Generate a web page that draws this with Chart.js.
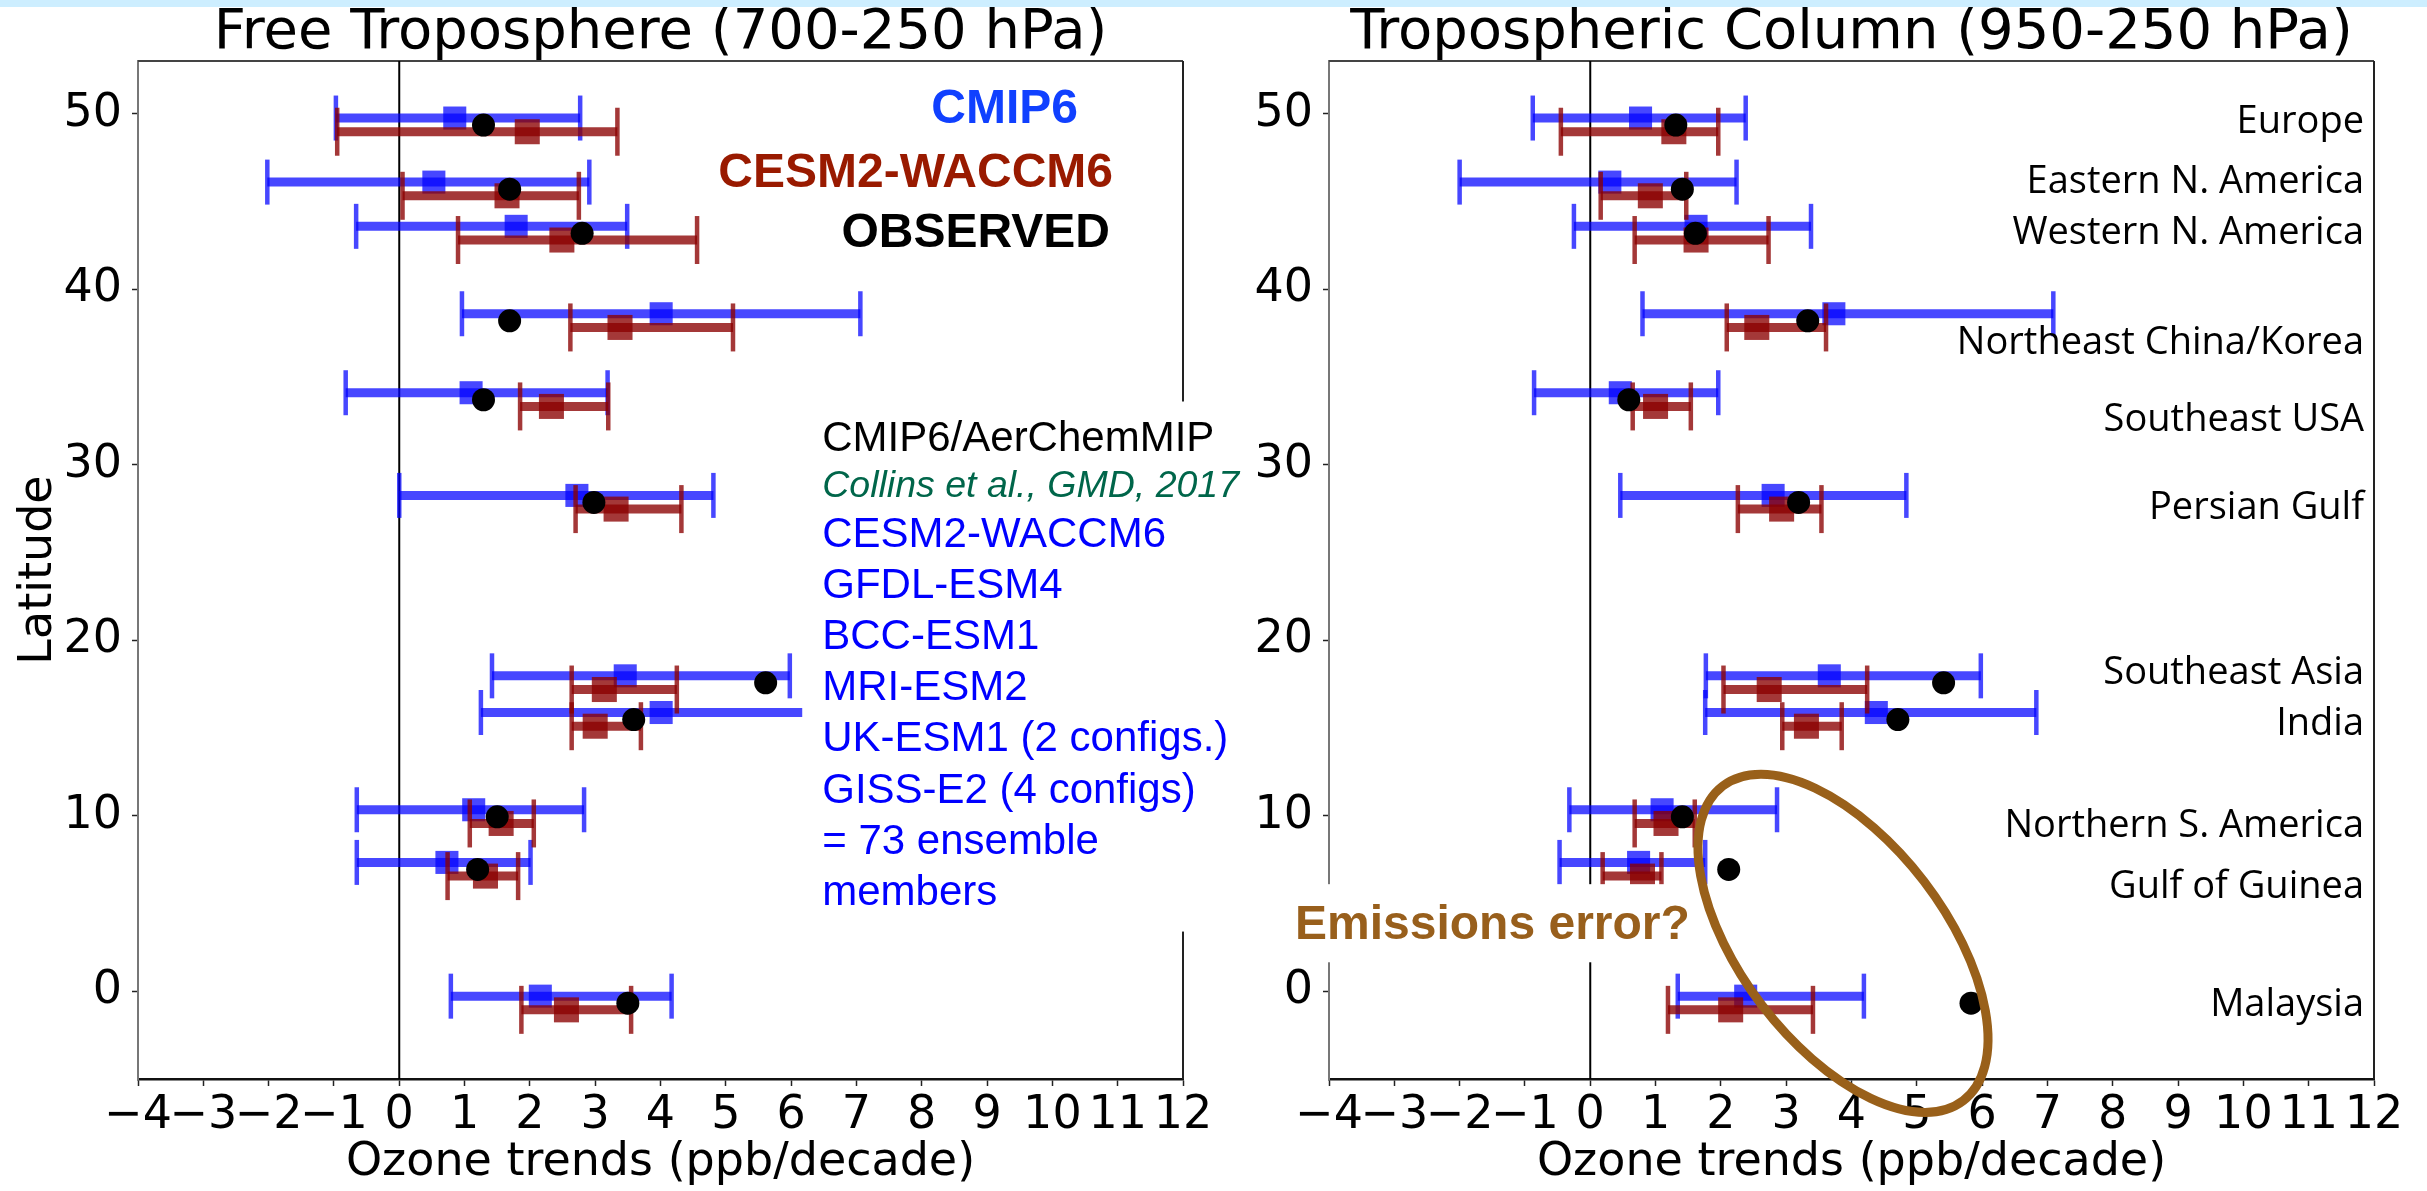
<!DOCTYPE html>
<html>
<head>
<meta charset="utf-8">
<script src="https://cdn.jsdelivr.net/npm/chart.js@4.4.1/dist/chart.umd.min.js"></script>
<style>
  html, body { margin: 0; padding: 0; background: #fff; }
  body { width: 2427px; height: 1191px; position: relative; overflow: hidden; }
  #franja { position: absolute; left: 0; top: 0; width: 2427px; height: 7px; background: #cdeeff; }
  #chartFree { position: absolute; left: 0; top: 0; }
  #chartColumn { position: absolute; left: 1190px; top: 0; }
</style>
</head>
<body>
<canvas id="chartFree" width="1260" height="1191"></canvas>
<canvas id="chartColumn" width="1237" height="1191"></canvas>
<div id="franja"></div>
<script>
// regions and observed latitudes
const regions = ['Europe', 'Eastern N. America', 'Western N. America', 'Northeast China/Korea',
  'Southeast USA', 'Persian Gulf', 'Southeast Asia', 'India', 'Northern S. America',
  'Gulf of Guinea', 'Malaysia']
const latitudes = [49.35, 45.7, 43.18, 38.2, 33.7, 27.85, 17.57, 15.48, 9.94, 6.94, -0.68]

const xTicks = [-4, -3, -2, -1, 0, 1, 2, 3, 4, 5, 6, 7, 8, 9, 10, 11, 12]
const yTicks = [0, 10, 20, 30, 40, 50]

// Free Troposphere (700-250 hPa)
const freeCmipMean = [0.85, 0.53, 1.79, 4.01, 1.10, 2.72, 3.46, 4.01, 1.14, 0.73, 2.16]
const freeCmipLow  = [-0.97, -2.02, -0.66, 0.96, -0.82, 0.00, 1.42, 1.25, -0.65, -0.65, 0.79]
const freeCmipHigh = [2.77, 2.91, 3.49, 7.06, 3.19, 4.81, 5.98, 6.80, 2.83, 2.01, 4.17]
const freeCesmMean = [1.96, 1.65, 2.49, 3.38, 2.33, 3.32, 3.14, 3.00, 1.56, 1.32, 2.56]
const freeCesmLow  = [-0.95, 0.05, 0.90, 2.62, 1.85, 2.70, 2.64, 2.64, 1.08, 0.74, 1.87]
const freeCesmHigh = [3.34, 2.75, 4.56, 5.11, 3.20, 4.32, 4.25, 3.70, 2.06, 1.82, 3.55]
const freeObserved = [1.29, 1.69, 2.80, 1.69, 1.29, 2.98, 5.61, 3.59, 1.50, 1.20, 3.50]

// Tropospheric Column (950-250 hPa)
const colCmipMean = [0.77, 0.30, 1.62, 3.73, 0.46, 2.80, 3.66, 4.38, 1.10, 0.74, 2.38]
const colCmipLow  = [-0.88, -2.00, -0.25, 0.80, -0.86, 0.46, 1.77, 1.76, -0.32, -0.47, 1.34]
const colCmipHigh = [2.38, 2.24, 3.38, 7.09, 1.96, 4.84, 5.98, 6.83, 2.86, 1.76, 4.19]
const colCesmMean = [1.28, 0.92, 1.62, 2.55, 1.00, 2.93, 2.74, 3.31, 1.16, 0.80, 2.15]
const colCesmLow  = [-0.45, 0.16, 0.68, 2.09, 0.65, 2.26, 2.04, 2.94, 0.68, 0.19, 1.19]
const colCesmHigh = [1.96, 1.47, 2.73, 3.61, 1.54, 3.54, 4.24, 3.85, 1.60, 1.09, 3.41]
const colObserved = [1.31, 1.41, 1.61, 3.33, 0.59, 3.19, 5.41, 4.71, 1.41, 2.12, 5.83]

// small vertical dodge of the two model series (degrees latitude)
const cmipShift = 0.4
const cesmShift = -0.38

const azul = 'rgba(0, 0, 255, 0.72)'
const rojo = 'rgba(139, 0, 0, 0.78)'

Chart.defaults.font.family = '"DejaVu Sans", sans-serif'
Chart.defaults.color = '#000'

const barras = (low, high, shift) => {
    const puntos = []
    low.forEach((v, i) => {
        puntos.push({ x: v, y: latitudes[i] + shift })
        puntos.push({ x: high[i], y: latitudes[i] + shift })
        puntos.push({ x: high[i], y: null })
    })
    return puntos
}
const extremos = (low, high, shift) =>
    low.flatMap((v, i) => [{ x: v, y: latitudes[i] + shift }, { x: high[i], y: latitudes[i] + shift }])
const centros = (vals, shift) => vals.map((v, i) => ({ x: v, y: latitudes[i] + shift }))

const serie = (mean, low, high, shift, color, squareR, capR, order) => [
    { data: barras(low, high, shift), showLine: true, spanGaps: false, borderColor: color,
      borderWidth: 9, pointRadius: 0, order: order + 1 },
    { data: extremos(low, high, shift), showLine: false, pointStyle: 'line', pointRotation: 90,
      pointRadius: capR, pointBorderColor: color, pointBorderWidth: 4.5, order: order + 1 },
    { data: centros(mean, shift), showLine: false, pointStyle: 'rect', pointRadius: squareR,
      pointBackgroundColor: color, pointBorderWidth: 0, order: order }
]

const makeDatasets = (cmip, cesm, obs) => [
    { data: [{ x: 0, y: -5 }, { x: 0, y: 53 }], showLine: true, borderColor: '#000',
      borderWidth: 2, pointRadius: 0, order: 10 },
    ...serie(cmip[0], cmip[1], cmip[2], cmipShift, azul, 16.3, 22.5, 7),
    ...serie(cesm[0], cesm[1], cesm[2], cesmShift, rojo, 17.7, 24, 4),
    { data: centros(obs, 0), showLine: false, pointStyle: 'circle', pointRadius: 11.5,
      pointBackgroundColor: '#000', pointBorderWidth: 0, order: 0 }
]

const marco = {
    id: 'marco',
    beforeDatasetsDraw(chart) {
        const { ctx, chartArea } = chart
        ctx.save()
        ctx.lineWidth = 2
        ctx.strokeStyle = '#444'
        ctx.beginPath()
        ctx.moveTo(chartArea.left, chartArea.top)
        ctx.lineTo(chartArea.right, chartArea.top)
        ctx.stroke()
        ctx.strokeStyle = '#222'
        ctx.beginPath()
        ctx.moveTo(chartArea.right, chartArea.top)
        ctx.lineTo(chartArea.right, chartArea.bottom)
        ctx.stroke()
        ctx.restore()
    }
}

const makeOptions = (titulo, yTitle, yWidth, padRight) => ({
    responsive: false,
    devicePixelRatio: 1,
    animation: false,
    events: [],
    layout: { padding: { left: 0, right: padRight, top: 0, bottom: 0 } },
    plugins: {
        legend: { display: false },
        tooltip: { enabled: false },
        title: {
            display: true, text: titulo, fullSize: false, color: '#000',
            font: { size: 56, weight: 'normal', lineHeight: 1.0 },
            padding: { top: 5, bottom: 0 }
        }
    },
    scales: {
        x: {
            type: 'linear', min: -4, max: 12,
            afterBuildTicks: (scale) => { scale.ticks = xTicks.map(v => ({ value: v })) },
            afterFit: (scale) => { scale.height = 112 },
            ticks: {
                font: { size: 46 }, color: '#000', padding: 2, maxRotation: 0, autoSkip: false,
                callback: (v) => v < 0 ? '\u2212' + Math.abs(v) : String(v)
            },
            grid: { drawOnChartArea: false, drawTicks: true, tickLength: 7, tickColor: '#222', tickWidth: 1.5 },
            border: { display: true, color: '#111', width: 2.5 },
            title: { display: true, text: 'Ozone trends (ppb/decade)', color: '#000',
                     font: { size: 46, lineHeight: 1.2 }, padding: { top: 0, bottom: 0 } }
        },
        y: {
            type: 'linear', min: -5, max: 53,
            afterBuildTicks: (scale) => { scale.ticks = yTicks.map(v => ({ value: v })) },
            afterFit: (scale) => { scale.width = yWidth },
            ticks: { font: { size: 46 }, color: '#000', padding: 10 },
            grid: { drawOnChartArea: false, drawTicks: true, tickLength: 6, tickColor: '#222', tickWidth: 1.5 },
            border: { display: true, color: '#777', width: 2 },
            title: { display: yTitle !== '', text: yTitle, color: '#000',
                     font: { size: 46, lineHeight: 1.2 }, padding: { top: 11, bottom: 0 } }
        }
    }
})

// notes of the left panel
const notasFree = {
    id: 'notasFree',
    afterDatasetsDraw(chart) {
        const { ctx, chartArea, scales: { x, y } } = chart
        ctx.save()
        const left = x.getPixelForValue(6.17)
        const top = y.getPixelForValue(33.6)
        const bottom = y.getPixelForValue(3.4)
        ctx.fillStyle = '#fff'
        ctx.fillRect(left, top, chartArea.right + 12 - left, bottom - top)

        ctx.textBaseline = 'alphabetic'
        ctx.textAlign = 'right'
        ctx.font = 'bold 48px "Liberation Sans", Arial, sans-serif'
        ctx.fillStyle = '#1040ff'
        ctx.fillText('CMIP6', chartArea.right - 105, chartArea.top + 62)
        ctx.fillStyle = '#991a00'
        ctx.fillText('CESM2-WACCM6', chartArea.right - 70, chartArea.top + 126)
        ctx.fillStyle = '#000'
        ctx.fillText('OBSERVED', chartArea.right - 73, chartArea.top + 186)

        ctx.textAlign = 'left'
        const tx = left + 20
        ctx.font = '42px "Liberation Sans", Arial, sans-serif'
        ctx.fillStyle = '#000'
        ctx.fillText('CMIP6/AerChemMIP', tx, top + 49)
        ctx.font = 'italic 37.5px "Liberation Sans", Arial, sans-serif'
        ctx.fillStyle = '#00664a'
        ctx.fillText('Collins et al., GMD, 2017', tx, top + 95)
        ctx.font = '42px "Liberation Sans", Arial, sans-serif'
        ctx.fillStyle = '#0000ff'
        const lineas = ['CESM2-WACCM6', 'GFDL-ESM4', 'BCC-ESM1', 'MRI-ESM2',
            'UK-ESM1 (2 configs.)', 'GISS-E2 (4 configs)', '= 73 ensemble', 'members']
        lineas.forEach((t, i) => ctx.fillText(t, tx, top + 145 + i * 51.2))
        ctx.restore()
    }
}

// region labels of the right panel (latitude of each label baseline)
const labelLat = [48.9, 45.5, 42.6, 36.3, 31.9, 26.9, 17.5, 14.6, 8.8, 5.3, -1.4]

const notasColumn = {
    id: 'notasColumn',
    afterDatasetsDraw(chart) {
        const { ctx, chartArea, scales: { x, y } } = chart
        ctx.save()
        ctx.font = '38px "Open Sans", "Noto Sans", sans-serif'
        ctx.fillStyle = '#000'
        ctx.textAlign = 'right'
        ctx.textBaseline = 'alphabetic'
        regions.forEach((r, i) => ctx.fillText(r, chartArea.right - 10, y.getPixelForValue(labelLat[i])))

        // box behind "Emissions error?"
        const right = x.getPixelForValue(1.81)
        const top = y.getPixelForValue(6.1)
        const bottom = y.getPixelForValue(1.65)
        ctx.fillStyle = '#fff'
        ctx.fillRect(0, top, right, bottom - top)
        ctx.font = 'bold 48px "Liberation Sans", Arial, sans-serif'
        ctx.fillStyle = '#985f1c'
        ctx.textAlign = 'left'
        ctx.fillText('Emissions error?', chartArea.left - 34, y.getPixelForValue(2.96))

        ctx.strokeStyle = '#99601a'
        ctx.lineWidth = 9
        ctx.beginPath()
        ctx.ellipse(x.getPixelForValue(3.87), y.getPixelForValue(2.73), 198, 102, 52.6 * Math.PI / 180, 0, 2 * Math.PI)
        ctx.stroke()
        ctx.restore()
    }
}

const chartFree = new Chart(document.getElementById('chartFree').getContext('2d'), {
    type: 'scatter',
    data: {
        datasets: makeDatasets(
            [freeCmipMean, freeCmipLow, freeCmipHigh],
            [freeCesmMean, freeCesmLow, freeCesmHigh],
            freeObserved)
    },
    options: makeOptions('Free Troposphere (700-250 hPa)', 'Latitude', 138, 77),
    plugins: [marco, notasFree]
})

const chartColumn = new Chart(document.getElementById('chartColumn').getContext('2d'), {
    type: 'scatter',
    data: {
        datasets: makeDatasets(
            [colCmipMean, colCmipLow, colCmipHigh],
            [colCesmMean, colCesmLow, colCesmHigh],
            colObserved)
    },
    options: makeOptions('Tropospheric Column (950-250 hPa)', '', 139, 53),
    plugins: [marco, notasColumn]
})
</script>
</body>
</html>
